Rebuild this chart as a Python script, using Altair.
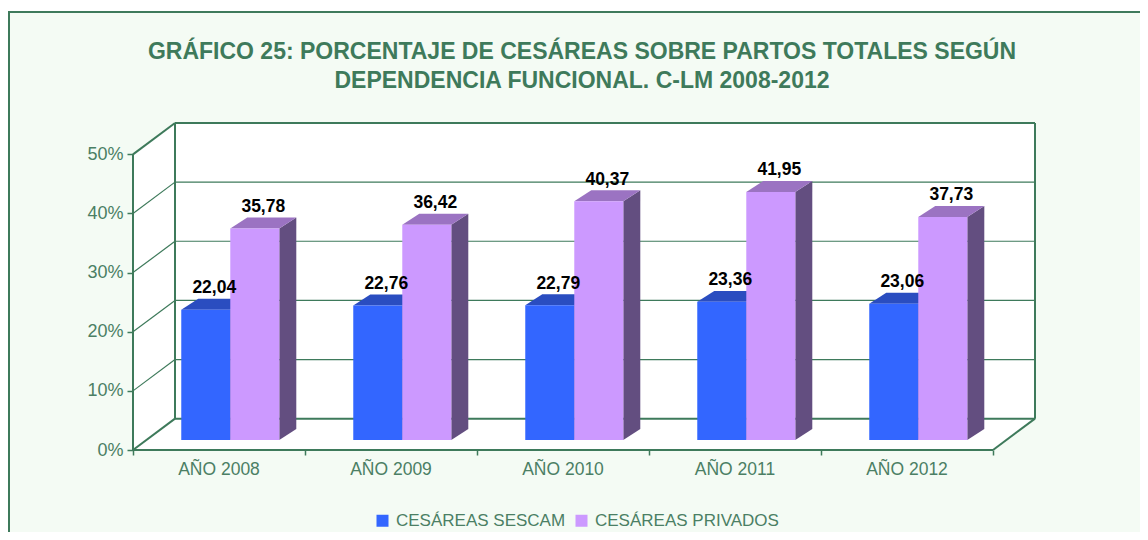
import altair as alt
import pandas as pd

# ---------------- data ----------------
categories = ["AÑO 2008", "AÑO 2009", "AÑO 2010", "AÑO 2011", "AÑO 2012"]
series = ["CESÁREAS SESCAM", "CESÁREAS PRIVADOS"]
sescam = [22.04, 22.76, 22.79, 23.36, 23.06]
privados = [35.78, 36.42, 40.37, 41.95, 37.73]
y_ticks = [0, 10, 20, 30, 40, 50]
title_lines = [
    "GRÁFICO 25: PORCENTAJE DE CESÁREAS SOBRE PARTOS TOTALES SEGÚN",
    "DEPENDENCIA FUNCIONAL. C-LM 2008-2012",
]

# ---------------- styling / projection ----------------
FONT = "Liberation Sans"
GREEN = "#3E7A5B"
LABEL_GREEN = "#4B7F64"
MINT = "#F4FBF4"
FRONT = ["#3366FF", "#CC99FF"]
TOP = ["#2A4DC0", "#9B73C2"]
SIDE = ["#1F3A8C", "#634E80"]

N = len(categories)
YMAX = 50
DX, DY = 0.2442, 5.3      # depth of the box (x units, y units)
BX0, BY0 = 0.0756, 1.69   # bar plane offset inside the box
BDX, BDY = 0.0988, 1.86   # bar depth
GAP, BW = 0.205, 0.285    # gap before first bar, bar width (category = 1)

W, H = 902, 327

values = [sescam, privados]

front_rows, top_rows, side_rows, label_rows = [], [], [], []
for s, name in enumerate(series):
    for i, cat in enumerate(categories):
        v = values[s][i]
        L = i + BX0 + GAP + s * BW
        R = L + BW
        fid = f"{s}-{i}"
        front_rows.append(dict(series=name, x=L, x2=R, y=BY0, y2=BY0 + v))
        top_rows += [
            dict(series=name, fid=fid, y=BY0 + v, x=L, x2=R),
            dict(series=name, fid=fid, y=BY0 + v + BDY, x=L + BDX, x2=R + BDX),
        ]
        side_rows += [
            dict(series=name, fid=fid, x=R, y=BY0, y2=BY0 + v),
            dict(series=name, fid=fid, x=R + BDX, y=BY0 + BDY, y2=BY0 + v + BDY),
        ]
        label_rows.append(dict(series=name, x=(L + R) / 2 + BDX / 2, y=BY0 + v + BDY,
                               text=f"{v:.2f}".replace(".", ",")))

front_df = pd.DataFrame(front_rows)
top_df = pd.DataFrame(top_rows)
side_df = pd.DataFrame(side_rows)
label_df = pd.DataFrame(label_rows)
cat_df = pd.DataFrame(dict(x=[i + 0.5 for i in range(N)], y=[0] * N, text=categories))

back_df = pd.DataFrame([dict(x=DX, x2=N + DX, y=DY, y2=YMAX + DY)])
leftwall_df = pd.DataFrame([dict(x=0, y=0, y2=YMAX), dict(x=DX, y=DY, y2=YMAX + DY)])
floor_df = pd.DataFrame([dict(y=0, x=0, x2=N), dict(y=DY, x=DX, x2=N + DX)])

edges = [
    (DX, DY, DX, YMAX + DY), (N + DX, DY, N + DX, YMAX + DY),
    (DX, YMAX + DY, N + DX, YMAX + DY), (DX, DY, N + DX, DY),
    (0, 0, 0, YMAX), (0, YMAX, DX, YMAX + DY), (0, 0, DX, DY),
    (0, 0, N, 0), (N, 0, N + DX, DY),
]
edge_df = pd.DataFrame([dict(x=a, y=b, x2=c, y2=d) for a, b, c, d in edges])
grid = []
for t in y_ticks[1:-1]:
    grid.append(dict(x=DX, y=t + DY, x2=N + DX, y2=t + DY))
    grid.append(dict(x=0, y=t, x2=DX, y2=t + DY))
grid_df = pd.DataFrame(grid)

xs = alt.Scale(domain=[0, N + DX], nice=False, zero=False)
ys = alt.Scale(domain=[0, YMAX + DY], nice=False, zero=False)
xaxis = alt.Axis(values=list(range(N + 1)), labels=False, domain=False, grid=False,
                 ticks=True, tickSize=5, tickColor=GREEN, tickWidth=1.5, title=None,
                 zindex=1)
yaxis = alt.Axis(values=y_ticks, labelExpr="datum.value + '%'", domain=False, grid=False,
                 tickSize=6, tickColor=GREEN, tickWidth=1.5, labelPadding=4,
                 labelFontSize=18, labelColor=LABEL_GREEN, labelFont=FONT, title=None,
                 zindex=1)
X = alt.X("x:Q", scale=xs, axis=xaxis)
Y = alt.Y("y:Q", scale=ys, axis=yaxis)

frame = alt.Chart(back_df).mark_rect(fill=MINT, stroke=GREEN, strokeWidth=2).encode(
    x=alt.value(-124), x2=alt.value(1300), y=alt.value(-111), y2=alt.value(700))

title1 = alt.Chart(back_df).mark_text(
    font=FONT, fontSize=23, fontWeight="bold", color=GREEN, baseline="alphabetic",
    align="center").encode(x=alt.value(W / 2 - 2), y=alt.value(-64),
                           text=alt.value(title_lines[0]))
title2 = alt.Chart(back_df).mark_text(
    font=FONT, fontSize=23, fontWeight="bold", color=GREEN, baseline="alphabetic",
    align="center").encode(x=alt.value(W / 2 - 2), y=alt.value(-34.7),
                           text=alt.value(title_lines[1]))

back = alt.Chart(back_df).mark_rect(fill="white").encode(x=X, x2="x2:Q", y=Y, y2="y2:Q")
leftwall = alt.Chart(leftwall_df).mark_area(fill="white", opacity=1).encode(x=X, y=Y, y2="y2:Q")
floor = alt.Chart(floor_df).mark_area(fill="white", opacity=1, orient="horizontal").encode(
    y=Y, x=X, x2="x2:Q")
gridlines = alt.Chart(grid_df).mark_rule(color=GREEN, strokeWidth=1.2).encode(
    x=X, y=Y, x2="x2:Q", y2="y2:Q")
edgelines = alt.Chart(edge_df).mark_rule(color=GREEN, strokeWidth=2).encode(
    x=X, y=Y, x2="x2:Q", y2="y2:Q")

sides = alt.Chart(side_df).mark_area(opacity=1, orient="vertical").encode(
    x=X, y=Y, y2="y2:Q", detail="fid:N",
    color=alt.Color("series:N", scale=alt.Scale(domain=series, range=SIDE), legend=None))
tops = alt.Chart(top_df).mark_area(opacity=1, orient="horizontal").encode(
    y=Y, x=X, x2="x2:Q", detail="fid:N",
    color=alt.Color("series:N", scale=alt.Scale(domain=series, range=TOP), legend=None))
fronts = alt.Chart(front_df).mark_rect().encode(
    x=X, x2="x2:Q", y=Y, y2="y2:Q",
    color=alt.Color("series:N", scale=alt.Scale(domain=series, range=FRONT),
                    legend=alt.Legend(orient="none", legendX=241, legendY=389,
                                      direction="horizontal", title=None,
                                      symbolType="square", symbolSize=144,
                                      symbolStrokeWidth=0, symbolOpacity=1,
                                      labelFont=FONT, labelFontSize=17, labelLimit=0,
                                      labelColor=LABEL_GREEN, labelOffset=5,
                                      columnPadding=7)))
labels = alt.Chart(label_df).mark_text(font=FONT, fontSize=17.5, fontWeight="bold",
                                       color="black", baseline="alphabetic", dy=-5.5).encode(
    x=X, y=Y, text="text:N")
catlabels = alt.Chart(cat_df).mark_text(font=FONT, fontSize=17.5, color=LABEL_GREEN,
                                        baseline="middle", dy=19.5).encode(
    x=X, y=Y, text="text:N")

chart = alt.layer(
    frame, title1, title2, back, leftwall, floor, gridlines, edgelines,
    sides, tops, fronts, labels, catlabels,
).resolve_scale(color="independent").properties(
    width=W, height=H,
    autosize=alt.AutoSizeParams(type="none"),
    padding={"left": 125, "top": 115, "right": 105, "bottom": 82},
).configure_view(stroke=None).configure(background="white")

chart.save("out.html", embed_options={"renderer": "svg", "actions": False})
